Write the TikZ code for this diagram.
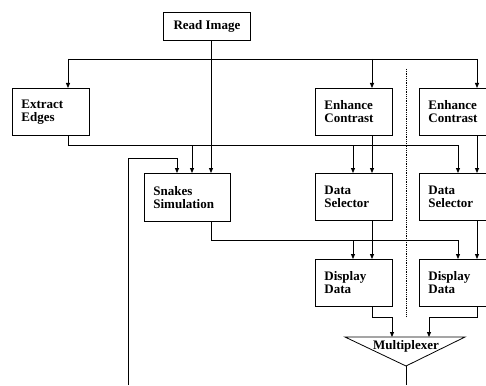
\documentclass[tikz,border=0pt]{standalone}
\usepackage{fontspec}
\setmainfont{Liberation Serif}
\usepackage{tikz}
\usetikzlibrary{arrows.meta,positioning,calc}
\tikzset{% boxes and wires of the block diagram
	block/.style={draw,thick,anchor=north west,inner sep=0pt,
		font=\bfseries\fontsize{13}{13}\selectfont},
	smallblock/.style={block,minimum width=77pt,minimum height=47pt,text width=59pt,align=left},
	wideblock/.style={block,minimum width=86pt,minimum height=48pt,text width=68pt,align=left},
	wire/.style={thick},
	feed/.style={thick,-{Triangle[length=5pt,width=4pt]}}
}
\begin{document}
\begin{tikzpicture}[x=1pt,y=-1pt]
\useasboundingbox (0,0) rectangle (486,385);
% nodes
\node[block,minimum width=87pt,minimum height=28pt,align=center] (read) at (163,12) {Read Image};
\node[smallblock] (edges) at (12,88) {Extract\\Edges};
\node[smallblock] (enhA) at (315,88) {Enhance\\Contrast};
\node[smallblock] (enhB) at (419,88) {Enhance\\Contrast};
\node[wideblock] (snakes) at (144,173) {Snakes\\Simulation};
\node[smallblock] (selA) at (315,173) {Data\\Selector};
\node[smallblock] (selB) at (419,173) {Data\\Selector};
\node[smallblock] (dispA) at (315,259) {Display\\Data};
\node[smallblock] (dispB) at (419,259) {Display\\Data};
% multiplexer
\coordinate (mxl) at (345,337);
\coordinate (mxr) at (465,337);
\coordinate (mxo) at (406,366);
\draw[wire] (mxl) -- (mxr) -- (mxo) -- cycle;
\node[font=\bfseries\fontsize{13}{13}\selectfont] (mux) at (406,346) {Multiplexer};
\coordinate (out) at (406,385);
\draw[wire] (mxo) -- (out);
% separator
\draw[thick,densely dotted] (406,69) -- (406,316);
% read image fan out
\draw[wire] (68,59) -- (477,59);
\draw[feed] (68,59) -- (edges.north -| 68,0);
\draw[feed] (372,59) -- (enhA.north -| 372,0);
\draw[feed] (477,59) -- (enhB.north -| 477,0);
\draw[feed] (read.south -| 211,0) -- (snakes.north -| 211,0);
% edges fan out
\draw[wire] (edges.south -| 68,0) -- (68,145) -- (458,145);
\draw[feed] (192,145) -- (snakes.north -| 192,0);
\draw[feed] (353,145) -- (selA.north -| 353,0);
\draw[feed] (458,145) -- (selB.north -| 458,0);
\draw[feed] (enhA.south -| 372,0) -- (selA.north -| 372,0);
\draw[feed] (enhB.south -| 477,0) -- (selB.north -| 477,0);
% feedback
\draw[feed] (128,385) -- (128,158) -- (177,158) -- (snakes.north -| 177,0);
% snakes fan out
\draw[wire] (snakes.south -| 211,0) -- (211,240) -- (458,240);
\draw[feed] (353,240) -- (dispA.north -| 353,0);
\draw[feed] (458,240) -- (dispB.north -| 458,0);
\draw[feed] (selA.south -| 372,0) -- (dispA.north -| 372,0);
\draw[feed] (selB.south -| 477,0) -- (dispB.north -| 477,0);
% into multiplexer
\draw[feed] (dispA.south -| 372,0) -- (372,317) -- (392,317) -- (392,337);
\draw[feed] (dispB.south -| 477,0) -- (477,317) -- (429,317) -- (429,337);
\end{tikzpicture}
\end{document}
